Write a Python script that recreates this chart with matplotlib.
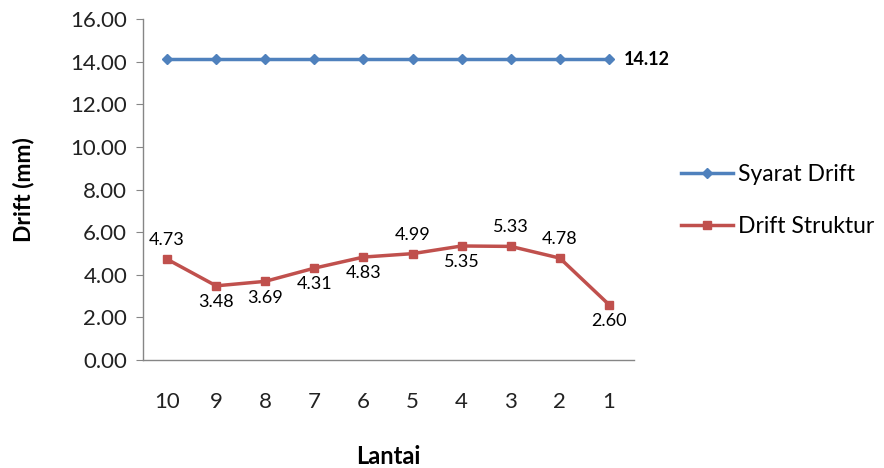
import matplotlib
matplotlib.use("Agg")
import matplotlib.pyplot as plt

categories = ["10", "9", "8", "7", "6", "5", "4", "3", "2", "1"]
syarat_drift = [14.12] * 10
drift_struktur = [4.73, 3.48, 3.69, 4.31, 4.83, 4.99, 5.35, 5.33, 4.78, 2.60]
label_pos = ["above", "below", "below", "below", "below", "above", "below", "above", "above", "below"]
yticks = [0, 2, 4, 6, 8, 10, 12, 14, 16]

plt.rcParams['font.family'] = ['Lato', 'DejaVu Sans']

fig = plt.figure(figsize=(8.84, 4.68), dpi=100)
ax = fig.add_axes([142.5/884, 1 - 360/468, (633.5-142.5)/884, (360-19)/468])

x = list(range(len(categories)))
blue = "#4F81BD"
red = "#C0504D"
ax.plot(x, syarat_drift, color=blue, lw=2.5, marker="D", ms=5.5, label="Syarat Drift")
ax.plot(x, drift_struktur, color=red, lw=2.5, marker="s", ms=5.5, label="Drift Struktur")

ax.set_xlim(-0.5, len(categories) - 0.5)
ax.set_ylim(0, 16)
ax.set_yticks(yticks)
ax.set_yticklabels([f"{v:.2f}" for v in yticks])
ax.set_xticks(x)
ax.set_xticklabels(categories)
ax.tick_params(axis="y", length=5, color="#868686", labelsize=16, pad=6, labelcolor="#222222")
ax.tick_params(axis="x", length=0, labelsize=16, pad=23, labelcolor="#222222")
for s in ["top", "right"]:
    ax.spines[s].set_visible(False)
for s in ["left", "bottom"]:
    ax.spines[s].set_color("#868686")
    ax.spines[s].set_linewidth(1.0)

for xi, v, p in zip(x, drift_struktur, label_pos):
    if p == "above":
        ax.annotate(f"{v:.2f}", (xi, v), xytext=(0, 8), textcoords="offset points",
                    ha="center", va="bottom", fontsize=13, color="#000000")
    else:
        ax.annotate(f"{v:.2f}", (xi, v), xytext=(0, -6), textcoords="offset points",
                    ha="center", va="top", fontsize=13, color="#000000")

ax.annotate(f"{syarat_drift[-1]:.2f}", (x[-1], syarat_drift[-1]), xytext=(11, 0),
            textcoords="offset points", ha="left", va="center", fontsize=13,
            fontweight="bold", color="#000000")

ax.set_ylabel("Drift (mm)", fontsize=16.5, fontweight="bold", labelpad=26)
fig.text(388/884, 1 - 456/468, "Lantai", fontsize=17, fontweight="bold", ha="center", va="center")

leg = fig.legend(loc="upper left", bbox_to_anchor=(660/884, 1 - 143/468), frameon=False,
                 fontsize=16.5, handlelength=2.3, handletextpad=0.2, labelspacing=1.35)

fig.savefig("out.png", dpi=100)
